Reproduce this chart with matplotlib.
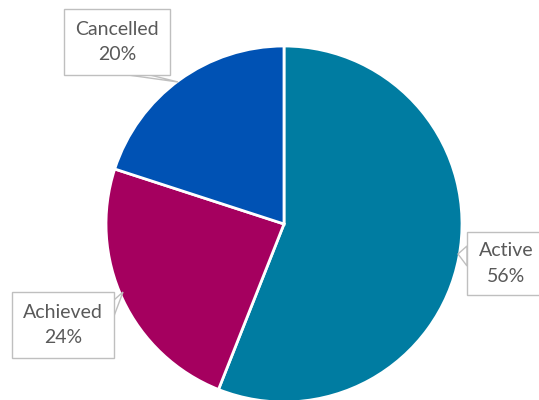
import matplotlib.pyplot as plt
from matplotlib.patches import Rectangle, Polygon

etiquetas = ['Active', 'Achieved', 'Cancelled']
valores = [56, 24, 20]
colores = ['#007CA1', '#A5005F', '#0052B4']

H = 400  # alto en pixeles, para pasar de coordenadas de imagen

fig = plt.figure(figsize=(5.39, 4.0), dpi=100)
ax = fig.add_axes([0, 0, 1, 1])
ax.set_xlim(0, 539)
ax.set_ylim(0, H)
ax.axis('off')

ax.pie(valores, colors=colores, startangle=90, counterclock=False,
       center=(284, H - 224), radius=178,
       wedgeprops=dict(edgecolor='white', linewidth=2))
ax.set_xlim(0, 539)
ax.set_ylim(0, H)
ax.set_aspect('equal')

# cajas de etiqueta: (x0, y0, x1, y1) en pixeles de imagen, punta del globo
cajas = {
    'Cancelled': ((64, 9, 170, 75), [(128, 75), (150, 75), (178, 82)]),
    'Active': ((467, 232, 545, 295), [(467, 246), (467, 266), (458, 254)]),
    'Achieved': ((12, 292, 114, 358), [(114, 300), (114, 316), (123, 292)]),
}

for nombre, v in zip(etiquetas, valores):
    (x0, y0, x1, y1), punta = cajas[nombre]
    ax.add_patch(Polygon([(px, H - py) for px, py in punta], closed=True,
                         facecolor='white', edgecolor='#BFBFBF', lw=1, zorder=3))
    ax.add_patch(Rectangle((x0, H - y1), x1 - x0, y1 - y0, facecolor='white',
                           edgecolor='#BFBFBF', lw=1, zorder=4))
    ax.text((x0 + x1) / 2, H - (y0 + y1) / 2, f'{nombre}\n{v}%', ha='center', va='center',
            fontsize=14, color='#595959', family='Lato', linespacing=1.6, zorder=5)

fig.savefig('out.png', dpi=100)
